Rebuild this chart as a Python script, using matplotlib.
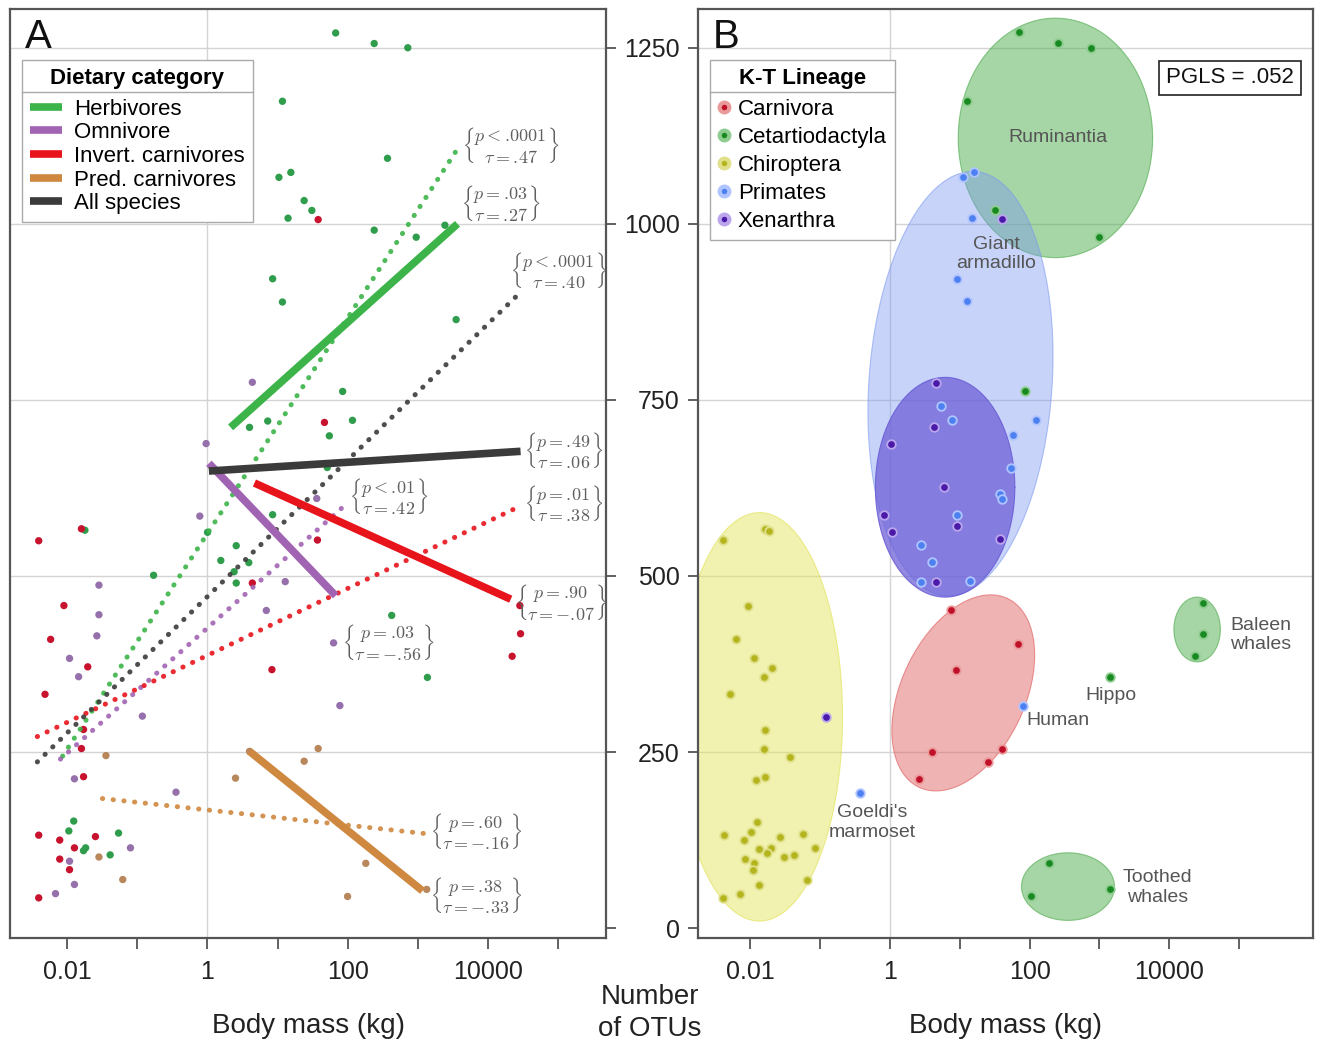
import numpy as np
import matplotlib
matplotlib.use("Agg")
import matplotlib.pyplot as plt
from matplotlib.lines import Line2D
from matplotlib.ticker import FixedLocator, FixedFormatter, NullLocator

plt.rcParams['font.family'] = ['Liberation Sans', 'DejaVu Sans']
plt.rcParams['mathtext.fontset'] = 'cm'

# ---------------- Panel A data (log10 body mass in kg, number of OTUs) ----------------
herb_logmass = [1.83, 2.38, 2.86, 1.07, 2.57, 1.02, 1.19, 1.38, 1.49, 1.15, 2.38, 2.98, 3.39,
                0.93, 1.07, 3.55, 1.93, 0.60, 0.86, 2.07, 1.74, 1.71, -1.75, 0.93, 0.0, 0.41,
                0.19, 0.59, 0.38, 0.41, -0.77, 2.63, 3.14, -1.91, -1.98, -1.27, -1.77, -1.74, -1.39]
herb_otus = [1271, 1256, 1250, 1174, 1093, 1066, 1073, 1033, 1019, 1008, 991, 981, 998,
             922, 889, 864, 762, 711, 720, 721, 699, 654, 565, 587, 562, 543,
             522, 519, 506, 490, 501, 444, 356, 152, 138, 135, 110, 114, 104]

omni_logmass = [0.64, -0.02, -0.11, 1.56, 1.11, -1.55, -1.55, 0.84, -1.58, 1.80, -1.97, -1.84,
                1.89, -0.93, -1.90, -0.45, -1.10, -1.97, -1.90, -2.17]
omni_otus = [775, 688, 585, 610, 492, 487, 445, 451, 415, 405, 383, 357,
             316, 301, 212, 193, 114, 95, 62, 49]

invert_logmass = [1.58, 1.67, -2.41, -1.80, 1.57, 0.64, -2.05, 4.46, -2.24, 4.47, 4.35, -1.71,
                  0.92, -2.32, -1.77, -1.80, -1.77, -2.41, -2.11, -1.60, -1.90, -2.11, -1.97, -2.41]
invert_otus = [1006, 718, 550, 567, 551, 490, 458, 458, 410, 418, 386, 371,
               367, 332, 282, 255, 215, 132, 125, 130, 114, 98, 83, 43]

pred_logmass = [-1.45, 0.60, 1.58, 1.38, 0.40, -1.55, -1.21, 2.26, 3.13, 2.0]
pred_otus = [245, 251, 255, 237, 213, 101, 69, 92, 55, 45]

diet_labels = ['Herbivores', 'Omnivore', 'Invert. carnivores', 'Pred. carnivores', 'All species']

# fitted lines per group (same order as diet_labels): solid and dotted
solid_x0 = [0.33, 0.02, 0.67, 0.60, 0.02]
solid_x1 = [3.57, 1.83, 4.33, 3.07, 4.47]
solid_y0 = [711, 660, 632, 251, 649]
solid_y1 = [1000, 472, 467, 53, 677]
dotted_x0 = [-2.07, -2.10, -2.43, -1.50, -2.43]
dotted_x1 = [3.60, 1.98, 4.44, 3.13, 4.44]
dotted_y0 = [244, 240, 272, 184, 236]
dotted_y1 = [1111, 602, 598, 134, 900]

# statistics labels
stat_p = ['< .0001', '= .03', '< .0001', '= .49', '< .01', '= .01', '= .90', '= .03', '= .60', '= .38']
stat_tau = ['.47', '.27', '.40', '.06', '.42', '.38', '-.07', '-.56', '-.16', '-.33']

# ---------------- Panel B data ----------------
carn_logmass = [0.87, 1.83, 0.95, 0.60, 1.60, 1.40, 0.41]
carn_otus = [452, 404, 367, 250, 254, 236, 212]
ceta_logmass = [1.85, 2.40, 2.88, 1.10, 1.51, 3.00, 1.94, 4.48, 4.49, 4.37, 3.15, 2.28, 2.02, 3.15]
ceta_otus = [1273, 1257, 1250, 1175, 1019, 981, 762, 461, 418, 386, 357, 92, 45, 56]
chiro_logmass = [-2.39, -1.79, -1.73, -2.04, -2.21, -1.95, -1.69, -1.81, -2.29, -1.79, -1.81,
                 -1.43, -1.92, -1.79, -1.91, -2.38, -1.99, -2.09, -1.57, -1.24, -1.88, -1.71,
                 -1.76, -2.08, -1.95, -1.52, -1.37, -1.08, -1.96, -1.19, -1.88, -2.15, -2.39]
chiro_otus = [551, 566, 564, 458, 410, 383, 370, 357, 332, 281, 254,
              243, 211, 214, 150, 132, 137, 125, 130, 134, 113, 114,
              107, 98, 93, 101, 104, 114, 83, 68, 61, 49, 43]
prim_logmass = [1.04, 1.21, 1.17, 0.96, 1.10, 0.73, 0.89, 1.76, 2.09, 1.73, 1.57, 1.60, 0.96,
                0.44, 0.60, 0.44, 1.14, -0.43, 1.91]
prim_otus = [1066, 1074, 1008, 922, 890, 742, 721, 700, 722, 654, 617, 609, 586,
             544, 520, 491, 493, 192, 315]
xen_logmass = [1.60, 0.66, 0.63, 0.01, 0.78, -0.09, 0.03, 0.96, 1.58, 0.66, -0.92]
xen_otus = [1007, 774, 712, 687, 627, 586, 563, 571, 552, 491, 300]

lineage_labels = ['Carnivora', 'Cetartiodactyla', 'Chiroptera', 'Primates', 'Xenarthra']

group_names = ['Ruminantia', 'Giant\narmadillo', 'Baleen\nwhales', 'Hippo', 'Human',
               "Goeldi's\nmarmoset", 'Toothed\nwhales']
pgls_text = 'PGLS = .052'

# ---------------- styles ----------------
line_colors = ['#3cb449', '#a164b3', '#e8141c', '#cf8840', '#3b3b3b']
point_colors = ['#2f9d4c', '#9570ab', '#c8132f', '#b8875c']
lin_core = ['#c0102a', '#198a22', '#b4b41e', '#4d80f0', '#4a1aa8']
lin_edge = ['#eb9a9a', '#8fcc8f', '#e0e08a', '#b0c4ff', '#bba6ee']

W, H = 1320, 1049
fig = plt.figure(figsize=(W / 100, H / 100), dpi=100)
ax_a = fig.add_axes([10 / W, (H - 938) / H, 596 / W, 929 / H])
ax_b = fig.add_axes([698 / W, (H - 938) / H, 615 / W, 929 / H])

ylim = (-14, 1305)
xlim_a = (10 ** -2.82, 10 ** 5.69)
xlim_b = (10 ** -2.75, 10 ** 6.06)

for ax, xl in ((ax_a, xlim_a), (ax_b, xlim_b)):
    ax.set_xscale('log')
    ax.set_xlim(*xl)
    ax.set_ylim(*ylim)
    decades = [10.0 ** k for k in range(-2, 6)]
    ax.xaxis.set_major_locator(FixedLocator(decades))
    ax.xaxis.set_major_formatter(FixedFormatter(['0.01', '', '1', '', '100', '', '10000', '']))
    ax.xaxis.set_minor_locator(NullLocator())
    ax.yaxis.set_major_locator(FixedLocator([0, 250, 500, 750, 1000, 1250]))
    ax.yaxis.set_minor_locator(NullLocator())
    for y in [250, 500, 750, 1000, 1250]:
        ax.axhline(y, color='#d4d4d4', lw=1.0, zorder=0)
    ax.axvline(1, color='#d4d4d4', lw=1.0, zorder=0)
    for s in ax.spines.values():
        s.set_color('#555555')
        s.set_linewidth(1.6)
    ax.tick_params(axis='x', direction='out', length=8, width=1.3, color='#555555',
                   labelsize=18, pad=8, labelcolor='#222222')
    ax.set_xlabel('Body mass (kg)', fontsize=20, labelpad=21, color='#222222')

ax_a.tick_params(axis='y', direction='out', length=7, width=1.3, color='#555555',
                 left=False, right=True, labelleft=False, labelright=False)
ax_b.tick_params(axis='y', direction='out', length=7, width=1.3, color='#555555',
                 labelsize=18, pad=6, labelcolor='#222222')

# ---------------- Panel A ----------------
groups_a = [(herb_logmass, herb_otus), (omni_logmass, omni_otus),
            (invert_logmass, invert_otus), (pred_logmass, pred_otus)]
for (lm, ot), c in zip(groups_a, point_colors):
    ax_a.scatter(10 ** np.array(lm), ot, s=28, color=c, edgecolors='none', zorder=3)

for i, c in enumerate(line_colors):
    ax_a.plot(10 ** np.array([dotted_x0[i], dotted_x1[i]]), [dotted_y0[i], dotted_y1[i]],
              color=c, lw=3.6, linestyle=(0, (0.05, 2.1)), dash_capstyle='round',
              alpha=0.9, zorder=4)
for i, c in enumerate(line_colors):
    ax_a.plot(10 ** np.array([solid_x0[i], solid_x1[i]]), [solid_y0[i], solid_y1[i]],
              color=c, lw=5.5, solid_capstyle='butt', zorder=5)


def math_num(s):
    # keep decimal point tight in mathtext
    return s.replace('.', r'.\!')


stat_pos = [(4.33, 1112), (4.19, 1030), (5.01, 935), (5.09, 679), (2.59, 614),
            (5.09, 604), (5.05, 463), (2.59, 406), (3.83, 138), (3.83, 47)]
for p, tau, (lx, ly) in zip(stat_p, stat_tau, stat_pos):
    s = r"$\genfrac{\{}{\}}{0}{0}{p %s}{\tau = %s}$" % (math_num(p), math_num(tau))
    ax_a.text(10 ** lx, ly, s, ha='center', va='center', fontsize=13, color='#5f5f5f', zorder=6)

handles_a = [Line2D([], [], color=c, lw=5.5, solid_capstyle='butt') for c in line_colors]
leg_a = ax_a.legend(handles_a, diet_labels, title='Dietary category', loc='upper left',
                    bbox_to_anchor=(0.020, 0.945), borderaxespad=0, fontsize=16,
                    title_fontproperties={'weight': 'bold', 'size': 16},
                    handlelength=1.45, handletextpad=0.55, labelspacing=0.12, borderpad=0.35,
                    fancybox=False, framealpha=1, edgecolor='#aaaaaa')
leg_a.get_frame().set_linewidth(1.0)
leg_a._legend_box.sep = 7
ax_a.text(0.025, 0.958, 'A', transform=ax_a.transAxes, fontsize=29, ha='left',
          va='baseline', color='#111111')

# ---------------- Panel B ----------------
fig.canvas.draw()
bb = ax_b.get_window_extent()
px_per_dec = bb.width / (np.log10(xlim_b[1]) - np.log10(xlim_b[0]))
px_per_otu = bb.height / (ylim[1] - ylim[0])
k = px_per_dec / px_per_otu


def ellipse(ax, cx, cy, a, b, ang, face, alpha, z):
    t = np.linspace(0, 2 * np.pi, 300)
    u, v = a * np.cos(t), b * np.sin(t)
    th = np.deg2rad(ang)
    dx = u * np.cos(th) - v * np.sin(th)
    dy = u * np.sin(th) + v * np.cos(th)
    ax.fill(10 ** (cx + dx / k), cy + dy, color=face, alpha=alpha, lw=0, zorder=z)
    ax.plot(10 ** (cx + dx / k), cy + dy, color=face, alpha=min(1, alpha + 0.15), lw=0.8, zorder=z)


# (centre log10 mass, centre OTUs, semi-axis a, semi-axis b, angle)
ellipse(ax_b, -1.87, 300, 118, 290, 0, '#e3e35a', 0.48, 1)
ellipse(ax_b, 1.05, 334, 148, 88, 65, '#e06060', 0.48, 1)
ellipse(ax_b, 2.37, 1122, 138, 170, 0, '#55b055', 0.52, 1)
ellipse(ax_b, 1.01, 773, 302, 130, 86, '#7a98f0', 0.42, 1.1)
ellipse(ax_b, 0.79, 626, 99, 156, 0, '#6a5cd6', 0.72, 1.2)
ellipse(ax_b, 4.40, 424, 33, 46, 0, '#55b055', 0.52, 1)
ellipse(ax_b, 2.55, 59, 66, 48, 0, '#55b055', 0.52, 1)

groups_b = [(carn_logmass, carn_otus), (ceta_logmass, ceta_otus), (chiro_logmass, chiro_otus),
            (prim_logmass, prim_otus), (xen_logmass, xen_otus)]
for (lm, ot), fc, ec in zip(groups_b, lin_core, lin_edge):
    ax_b.scatter(10 ** np.array(lm), ot, s=38, color=fc, edgecolors=ec, linewidths=1.3, zorder=3)

label_pos = [(2.40, 1122), (1.52, 957), (5.31, 416), (3.17, 330), (2.40, 295),
             (-0.25, 150), (3.83, 58)]
for name, (lx, ly) in zip(group_names, label_pos):
    ax_b.text(10 ** lx, ly, name, ha='center', va='center', fontsize=14, color='#555555',
              zorder=6, linespacing=1.2)

ax_b.text(0.865, 0.926, pgls_text, transform=ax_b.transAxes, ha='center', va='center',
          fontsize=16, color='#111111',
          bbox=dict(boxstyle='square,pad=0.3', facecolor='white', edgecolor='#222222', lw=1.2))

handles_b = [Line2D([], [], linestyle='none', marker='o', markersize=7, markerfacecolor=fc,
                    markeredgecolor=ec, markeredgewidth=3) for fc, ec in zip(lin_core, lin_edge)]
leg_b = ax_b.legend(handles_b, lineage_labels, title='K-T Lineage', loc='upper left',
                    bbox_to_anchor=(0.0195, 0.945), borderaxespad=0, fontsize=16,
                    title_fontproperties={'weight': 'bold', 'size': 16},
                    handlelength=0.6, handletextpad=0.3, labelspacing=0.32, borderpad=0.35,
                    fancybox=False, framealpha=1, edgecolor='#aaaaaa')
leg_b.get_frame().set_linewidth(1.0)
leg_b._legend_box.sep = 7
ax_b.text(0.024, 0.958, 'B', transform=ax_b.transAxes, fontsize=29, ha='left',
          va='baseline', color='#111111')

fig.text(650 / W, 1 - 1013 / H, 'Number\nof OTUs', ha='center', va='center', fontsize=20,
         color='#222222', linespacing=1.3)

# separators under legend titles
fig.canvas.draw()
inv = fig.transFigure.inverted()
for leg in (leg_a, leg_b):
    fr = leg.get_frame().get_window_extent()
    tb = leg.get_title().get_window_extent()
    ysep = tb.y0 - 3
    (x0, y0) = inv.transform((fr.x0, ysep))
    (x1, _) = inv.transform((fr.x1, ysep))
    fig.add_artist(Line2D([x0, x1], [y0, y0], transform=fig.transFigure, color='#aaaaaa',
                          lw=1.0, zorder=10))

fig.savefig('out.png', dpi=100)
